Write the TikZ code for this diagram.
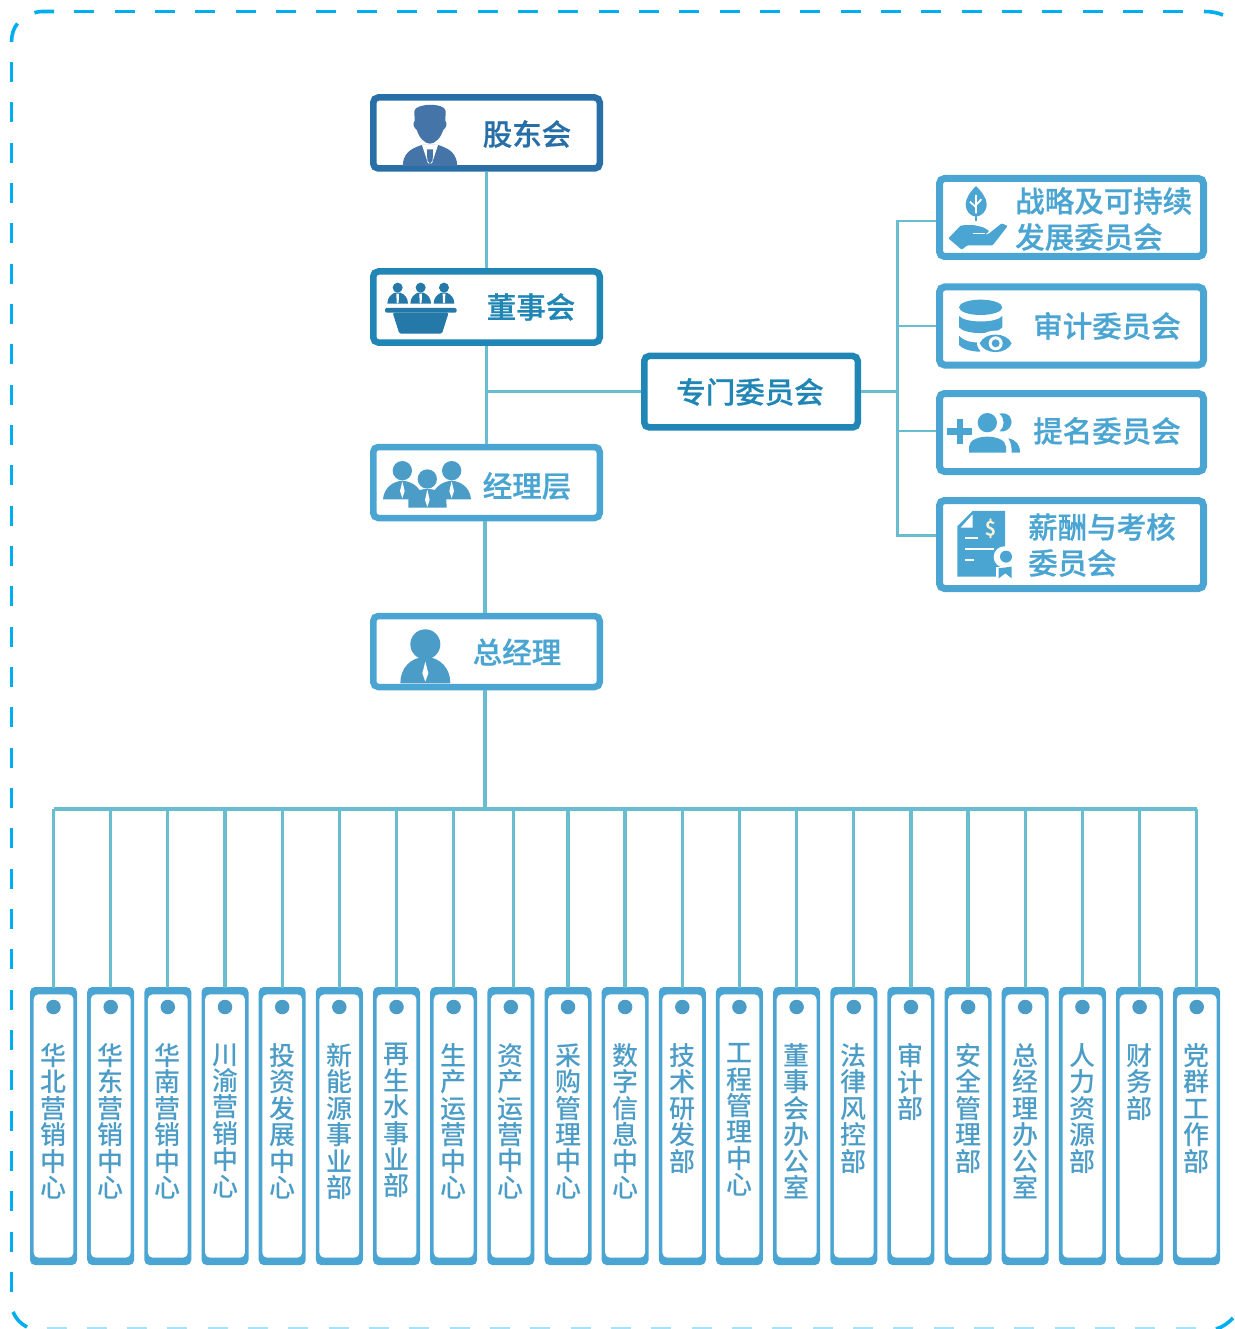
\documentclass[tikz,border=0pt]{standalone}
\usepackage{fontspec}
\setmainfont{Noto Sans CJK SC}
\newfontfamily\medfont{Noto Sans CJK SC Medium}
\newfontfamily\labfont[FakeBold=0.6]{Noto Sans CJK SC Medium}
\definecolor{dashc}{HTML}{00AEEF}
\definecolor{connc}{HTML}{68BDD0}
\definecolor{navy}{HTML}{286FA7}
\definecolor{navyi}{HTML}{4474A8}
\definecolor{teal}{HTML}{1F86B5}
\definecolor{tealc}{HTML}{2479A8}
\definecolor{sky}{HTML}{4BA5D2}
\definecolor{skyi}{HTML}{4B9CC6}
\definecolor{dollar}{HTML}{FFF3D6}
\tikzset{
  dashline/.style={draw=dashc,line width=3.6pt,dash pattern=on 20pt off 20.33pt},
  arcline/.style={draw=dashc,line width=3.6pt},
  conn/.style={draw=connc,line width=3.3pt},
  topbox/.style={draw=#1,line width=6.5pt,rounded corners=5pt,fill=white,inner sep=0pt,minimum width=226.5pt,minimum height=71pt},
  sidebox/.style={draw=sky,line width=7pt,rounded corners=5pt,fill=white,inner sep=0pt,minimum width=264pt},
  midbox/.style={draw=teal,line width=6.5pt,rounded corners=5pt,fill=white,inner sep=0pt,minimum width=213.5pt,minimum height=71.5pt},
  tagbox/.style={fill=sky,rounded corners=5pt,inner sep=0pt,minimum width=47pt,minimum height=278pt},
  tagin/.style={fill=white,rounded corners=5pt},
  tagdot/.style={circle,fill=skyi,inner sep=0pt,minimum size=14.5pt},
  tagtext/.style={text=skyi,font=\fontsize{26}{26.4}\medfont,align=center,inner sep=0pt,anchor=north},
  toplabel/.style={text=#1,font=\fontsize{29.5}{36}\labfont,inner sep=0pt},
  sidelabel/.style={text=sky,font=\fontsize{29.5}{36}\labfont,inner sep=0pt,align=left},
  zoomA/.style={shift={(360,85)},x=.3333pt,y=-.3333pt},
  zoomB/.style={shift={(360,435)},x=.3333pt,y=-.3333pt},
  zoomC/.style={shift={(930,170)},x=.3333pt,y=-.3333pt},
  zoomD/.style={shift={(930,385)},x=.3333pt,y=-.3333pt},
}
\begin{document}
\begin{tikzpicture}[x=1pt,y=-1pt]
\useasboundingbox (0,0) rectangle (1234,1329);
% dashed frame
\draw[dashline] (74.3,11.5) -- (1203,11.5);
\draw[arcline] (54,11.5) -- (42,11.5) .. controls (39,11.5) and (36.5,12) .. (34.5,12.8);
\draw[dashline] (11.5,62) -- (11.5,1295);
\draw[arcline] (11.5,42) .. controls (11.5,35) and (13.5,28) .. (17.5,23.5);
\draw[arcline] (1204,11.5) .. controls (1211,11.5) and (1217,12.5) .. (1223,15);
\draw[arcline] (13,1312) .. controls (16,1319) and (21,1324) .. (27,1327);
\draw[arcline] (1216,1329) .. controls (1223,1327) and (1228,1323) .. (1233,1318);
\draw[dashline,draw=dashc!35] (46.5,1329) -- (1200,1329);

% hierarchy boxes
\node[topbox=navy] (gd) at (486.5,133) {};
\node[topbox=teal] (ds) at (486.5,307) {};
\node[topbox=sky] (jl) at (486.5,482.5) {};
\node[topbox=sky] (zj) at (486.5,651.5) {};
\node[midbox] (zm) at (751,391.7) {};
\node[sidebox,minimum height=78pt] (s1) at (1071.5,217.5) {};
\node[sidebox,minimum height=78pt] (s2) at (1071.5,326) {};
\node[sidebox,minimum height=78pt] (s3) at (1071.5,432.5) {};
\node[sidebox,minimum height=88pt] (s4) at (1071.5,544.5) {};

% bus and tag boxes
\coordinate (bus) at (485,809);
\coordinate (busL) at (53.5,809);
\coordinate (busR) at (1197,809);
\coordinate (sp) at (897.5,391.7);
\foreach \n/\cx/\cxx/\lab in {
 1/53.5/53.5/华\\北\\营\\销\\中\\心,
 2/110.7/110.7/华\\东\\营\\销\\中\\心,
 3/167.8/167.8/华\\南\\营\\销\\中\\心,
 4/225/225/川\\渝\\营\\销\\中\\心,
 5/282.2/282.2/投\\资\\发\\展\\中\\心,
 6/339.3/339.3/新\\能\\源\\事\\业\\部,
 7/396.5/396.5/再\\生\\水\\事\\业\\部,
 8/453.6/453.6/生\\产\\运\\营\\中\\心,
 9/510.8/513.8/资\\产\\运\\营\\中\\心,
 10/568/568/采\\购\\管\\理\\中\\心,
 11/625.1/625.1/数\\字\\信\\息\\中\\心,
 12/682.3/682.3/技\\术\\研\\发\\部,
 13/739.4/739.4/工\\程\\管\\理\\中\\心,
 14/796.6/796.6/董\\事\\会\\办\\公\\室,
 15/853.8/853.8/法\\律\\风\\控\\部,
 16/910.9/910.9/审\\计\\部,
 17/968.1/968.1/安\\全\\管\\理\\部,
 18/1025.2/1025.2/总\\经\\理\\办\\公\\室,
 19/1082.4/1082.4/人\\力\\资\\源\\部,
 20/1139.6/1139.6/财\\务\\部,
 21/1196.7/1196.7/党\\群\\工\\作\\部}{
  \node[tagbox] (b\n) at (\cx,1126) {};
  \fill[tagin] ([xshift=3.8pt,yshift=-7.5pt]b\n.north west) rectangle ([xshift=-3.8pt,yshift=7.5pt]b\n.south east);
  \node[tagdot] (d\n) at (\cx,1007) {};
  \node[tagtext] (t\n) at (\cx,1043.3) {\lab};
  \coordinate (c\n) at (\cxx,987.5);
  \draw[conn] (c\n) -- (c\n |- bus);
}
% connectors
\draw[conn] (gd) -- (ds);
\draw[conn] (ds) -- (jl);
\coordinate (trunk) at (486.5,391.7);
\draw[conn] (trunk) -- (zm.west);
\coordinate (jlb) at (485,521);
\coordinate (zjt) at (485,613);
\coordinate (zjb) at (485,690);
\draw[conn] (jlb) -- (zjt);
\draw[conn] (zjb) -- (bus);
\draw[conn] (busL) -- (busR);
\draw[conn,line width=2.8pt] (zm.east) -- (sp);
\coordinate (k1) at (897.5,221);
\coordinate (k2) at (897.5,326);
\coordinate (k3) at (897.5,431);
\coordinate (k4) at (897.5,535.5);
\draw[conn,line width=2.8pt,line cap=rect] (k1) -- (k4);
\draw[conn,line width=2.8pt] (k1) -- (k1 -| s1.west);
\draw[conn,line width=2.8pt] (k2) -- (k2 -| s2.west);
\draw[conn,line width=2.8pt] (k3) -- (k3 -| s3.west);
\draw[conn,line width=2.8pt] (k4) -- (k4 -| s4.west);

% labels
\node[toplabel=navy] (lgd) at (527,134) {股东会};
\node[toplabel=teal] (lds) at (531,307) {董事会};
\node[toplabel=sky] (ljl) at (527,486) {经理层};
\node[toplabel=sky] (lzj) at (517,652) {总经理};
\node[toplabel=teal] (lzm) at (750,392) {专门委员会};
\node[sidelabel,anchor=west] (ls1a) at (1015,201) {战略及可持续};
\node[sidelabel,anchor=west] (ls1b) at (1015,237) {发展委员会};
\node[sidelabel] (ls2) at (1107,326) {审计委员会};
\node[sidelabel] (ls3) at (1107,431) {提名委员会};
\node[sidelabel,anchor=west] (ls4a) at (1028,527) {薪酬与考核};
\node[sidelabel,anchor=west] (ls4b) at (1028,563) {委员会};

% icon: shareholder
\begin{scope}[zoomA]
 \fill[navyi] (163,78) .. controls (165,55) and (255,52) .. (257,78) -- (256,108) .. controls (262,112) and (260,130) .. (250,134) .. controls (242,160) and (225,176) .. (210,176) .. controls (195,176) and (178,160) .. (170,134) .. controls (160,130) and (158,112) .. (164,108) -- cycle;
 \fill[navyi] (128,243) .. controls (130,205) and (150,192) .. (185,180) -- (235,180) .. controls (270,192) and (290,205) .. (292,243) -- cycle;
 \fill[white] (186,180) -- (234,180) -- (216,235) -- (204,235) -- cycle;
 \fill[navyi] (201,193) -- (219,193) -- (218,226) -- (210,236) -- (202,226) -- cycle;
\end{scope}
% icon: board
\begin{scope}[zoomA,tealc]
 \foreach \hx in {113,182,252}{
  \fill (\hx,608) circle (15);
  \fill (\hx-31,656) .. controls (\hx-31,638) and (\hx-20,628) .. (\hx-8,623) -- (\hx+8,623) .. controls (\hx+20,628) and (\hx+31,638) .. (\hx+31,656) -- cycle;
  \fill[white] (\hx-4,626) -- (\hx+4,626) -- (\hx+3,652) -- (\hx,656) -- (\hx-3,652) -- cycle;
 }
 \fill[rounded corners=1.5pt] (75,669) rectangle (290,683);
 \fill[rounded corners=1.5pt] (98,683) -- (266,683) -- (246,746) -- (118,746) -- cycle;
\end{scope}
% icon: managers
\begin{scope}[zoomB,skyi]
 \fill (127,107) circle (29);
 \fill (275,107) circle (29);
 \fill (69,193) .. controls (72,160) and (95,140) .. (127,137) .. controls (160,140) and (185,160) .. (188,193) -- cycle;
 \fill (215,193) .. controls (218,160) and (243,140) .. (275,137) .. controls (307,140) and (330,160) .. (333,193) -- cycle;
 \fill[white] (127,139) -- (134,168) -- (127,190) -- (120,168) -- cycle;
 \fill[white] (275,139) -- (282,168) -- (275,190) -- (268,168) -- cycle;
 \fill (202,132) circle (29);
 \fill (145,218) -- (145,195) .. controls (150,175) and (175,162) .. (202,162) .. controls (230,162) and (255,175) .. (259,195) -- (260,218) -- cycle;
 \fill[white] (202,164) -- (209,195) -- (202,216) -- (195,195) -- cycle;
\end{scope}
% icon: GM
\begin{scope}[zoomB,skyi]
 \fill (196,628) circle (45);
 \fill (121,745) .. controls (121,700) and (150,668) .. (196,665) .. controls (242,668) and (271,700) .. (271,745) -- cycle;
 \fill[white] (196,680) -- (205,715) -- (196,740) -- (187,715) -- cycle;
\end{scope}
% icon: plant in hand
\begin{scope}[zoomC,sky]
 \fill (138,48) .. controls (155,65) and (170,85) .. (170,102) .. controls (170,125) and (155,138) .. (138,140) .. controls (121,138) and (107,125) .. (107,102) .. controls (107,85) and (121,65) .. (138,48) -- cycle;
 \draw[white,line width=1.8pt] (138,130) -- (138,75) (138,112) -- (120,95) (138,105) -- (154,88);
 \fill (135,135) rectangle (141,153);
 \fill[rounded corners=1pt] (55,205) -- (93,166) -- (130,165) -- (160,172) -- (178,183) -- (165,194) -- (175,192) -- (215,160) -- (233,168) -- (188,226) -- (112,226) -- (95,239) -- cycle;
 \draw[white,line width=1.6pt] (128,190) -- (165,190);
\end{scope}
% icon: database eye
\begin{scope}[zoomC,sky]
 \fill (152,412) ellipse (65 and 23);
 \fill (87,438) .. controls (105,460) and (200,460) .. (217,438) -- (217,472) .. controls (200,495) and (105,495) .. (87,472) -- cycle;
 \fill (87,497) .. controls (105,518) and (140,520) .. (165,515) -- (150,545) .. controls (120,545) and (95,535) .. (87,525) -- cycle;
 \fill[white] (197,520) ellipse (56 and 38);
 \fill (149,520) .. controls (165,485) and (228,485) .. (245,520) .. controls (228,555) and (165,555) .. (149,520) -- cycle;
 \fill[white] (197,520) circle (21);
 \fill (197,520) circle (12);
\end{scope}
% icon: add people
\begin{scope}[zoomD,sky]
 \fill (52,130) rectangle (126,150);
 \fill (80,103) rectangle (100,176);
 \fill (172,113) circle (29);
 \fill (117,203) -- (117,185) .. controls (118,165) and (145,155) .. (172,155) .. controls (200,155) and (227,165) .. (228,185) -- (228,203) -- cycle;
 \fill (208,86) .. controls (235,80) and (250,100) .. (243,120) .. controls (238,133) and (225,142) .. (209,139) .. controls (225,125) and (225,100) .. (208,86) -- cycle;
 \fill (235,160) .. controls (258,165) and (270,178) .. (270,203) -- (245,203) .. controls (245,185) and (243,172) .. (235,160) -- cycle;
\end{scope}
% icon: certificate document
\begin{scope}[zoomD,sky]
 \fill (128,378) -- (225,378) -- (225,575) -- (82,575) -- (82,424) -- cycle;
 \fill[white] (128,388) -- (128,428) -- (92,428) -- cycle;
 \draw[white,line width=1.8pt] (105,460) -- (145,460) (105,492) -- (192,492) (105,525) -- (133,525);
 \node[text=dollar,font=\fontsize{20}{20}\labfont,inner sep=0pt] (dol) at (181,430) {\$};
 \fill[white] (223,516) circle (32);
 \fill[white] (198,545) rectangle (250,585);
 \fill (228,515) circle (18);
 \fill (206,550) -- (245,545) -- (245,580) -- (226,565) -- (206,580) -- cycle;
\end{scope}
\end{tikzpicture}
\end{document}
